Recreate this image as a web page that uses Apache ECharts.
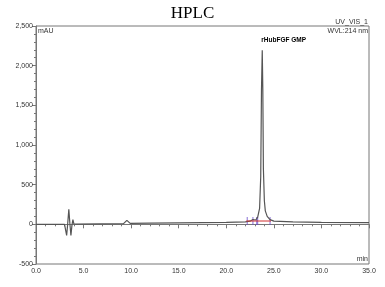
<!DOCTYPE html>
<html><head><meta charset="utf-8">
<script src="https://cdn.jsdelivr.net/npm/echarts@6/dist/echarts.min.js"></script>
<style>html,body{margin:0;padding:0;background:#fff}#c{width:385px;height:287px}</style>
</head><body><div id="c"></div>
<script>
const times = [0,3.0,3.12,3.22,3.32,3.45,3.56,3.67,3.78,3.88,3.98,4.2,9.2,9.4,9.55,9.7,9.9,12,15,20,22,22.5,22.8,22.9,23.0,23.1,23.3,23.5,23.62,23.7,23.78,23.84,23.9,24.0,24.1,24.3,24.6,25.0,27,30,35];
const signal = [0,0,10,-140,-10,190,10,-140,-10,60,5,2,8,30,50,30,12,15,18,25,32,40,60,45,80,55,90,200,600,1700,2195,1700,700,300,170,100,60,40,30,25,22];
const baseTimes = [22.1,24.7];
const baseVals = [42,42];
const markTimes = [22.2,22.8,23.2,23.3,24.6];
const markVals = [42,42,42,42,42];
const peakName = 'rHubFGF GMP';
const peakTime = 23.78, peakVal = 2195;
const yTicks = {min:-500,max:2500,interval:500};
const xTicks = {min:0,max:35,interval:5};

const chart = echarts.init(document.getElementById('c'));
const lbl = {fontFamily:'Liberation Sans',fontSize:7,color:'#333'};
chart.setOption({
  animation:false,
  title:{text:'HPLC',left:'center',top:0,textStyle:{fontFamily:'Liberation Serif',fontWeight:'normal',fontSize:17,color:'#000'}},
  grid:{left:36,right:16,top:26,bottom:23,show:true,borderColor:'#777',borderWidth:1},
  graphic:[
    {type:'text',right:17,top:19,style:{text:'UV_VIS_1',font:'7px Liberation Sans',fill:'#333',textAlign:'right'}},
    {type:'text',right:17,top:28,style:{text:'WVL:214 nm',font:'7px Liberation Sans',fill:'#333',textAlign:'right'}},
    {type:'text',left:38,top:28,style:{text:'mAU',font:'7px Liberation Sans',fill:'#333'}},
    {type:'text',right:17,top:256,style:{text:'min',font:'7px Liberation Sans',fill:'#333',textAlign:'right'}}
  ],
  xAxis:{type:'value',min:xTicks.min,max:xTicks.max,interval:xTicks.interval,
    axisLine:{lineStyle:{color:'#777'}},axisTick:{length:4,lineStyle:{color:'#777'}},
    minorTick:{show:true,splitNumber:5,length:2,lineStyle:{color:'#777'}},
    splitLine:{show:false},
    axisLabel:Object.assign({margin:4,formatter:v=>v.toFixed(1)},lbl)},
  yAxis:{type:'value',min:yTicks.min,max:yTicks.max,interval:yTicks.interval,
    axisLine:{show:true,lineStyle:{color:'#777'}},axisTick:{show:true,length:4,lineStyle:{color:'#777'}},
    minorTick:{show:true,splitNumber:5,length:2,lineStyle:{color:'#777'}},
    splitLine:{show:false},
    axisLabel:Object.assign({margin:3,formatter:v=>v.toLocaleString('en-US')},lbl)},
  series:[
    {type:'line',data:times.map((t,i)=>[t,signal[i]]),symbol:'none',lineStyle:{color:'#555',width:1.2},
     markPoint:{symbol:'circle',symbolSize:0,data:[{coord:[peakTime,peakVal]}],
       label:{show:true,position:'top',formatter:peakName,align:'left',offset:[-1,-1],fontFamily:'Liberation Sans',fontSize:6.5,fontWeight:'bold',color:'#000'}}},
    {type:'line',data:baseTimes.map((t,i)=>[t,baseVals[i]]),symbol:'none',lineStyle:{color:'#d03030',width:1}},
    {type:'scatter',data:markTimes.map((t,i)=>[t,markVals[i]]),symbol:'rect',symbolSize:[1,8],itemStyle:{color:'#6a4acb'}}
  ]
});
</script></body></html>
